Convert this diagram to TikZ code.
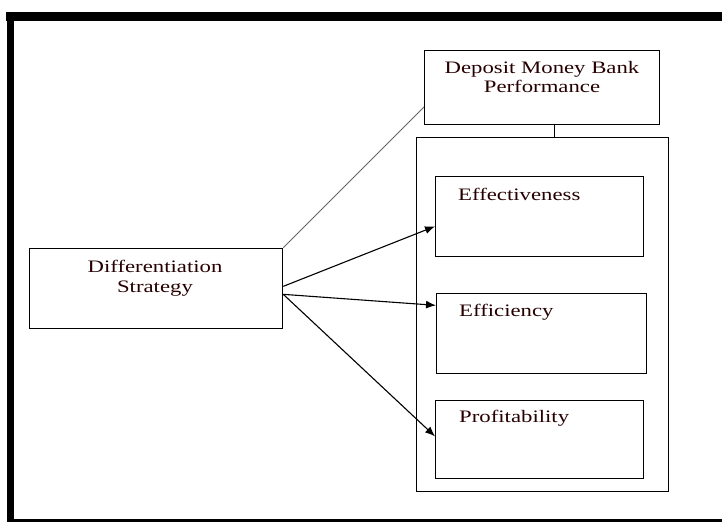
\documentclass[tikz,border=0pt]{standalone}
\usepackage{fontspec}
\usepackage{graphicx}
\setmainfont{Liberation Serif}
\usetikzlibrary{arrows.meta,calc}
\newcommand{\wtext}[1]{\scalebox{1.3}[1]{#1}}
\begin{document}
\begin{tikzpicture}[x=1pt,y=1pt,
  box/.style={draw=black,line width=1.3pt,rectangle,inner sep=0pt,anchor=south west},
  lbl/.style={inner sep=0pt,font=\fontsize{17.5}{20}\selectfont,text=black!85!red},
  arr/.style={line width=1.1pt,-{Latex[length=10pt,width=8pt]}},
  thin/.style={line width=0.8pt,draw=black!60}]
\useasboundingbox (0,0) rectangle (722,522);
% frame
\fill[black] (6,501) rectangle (722,510);
\fill[black] (7,0) rectangle (14,510);
\fill[black] (7,0) rectangle (722,3);
% boxes
\node[box,minimum width=253pt,minimum height=80pt] (ds) at (29,193) {};
\node[box,minimum width=235pt,minimum height=74pt] (dmb) at (424,397) {};
\node[box,line width=1.1pt,minimum width=252pt,minimum height=354pt] (big) at (416,30) {};
\node[box,minimum width=208pt,minimum height=80pt] (eff) at (435,265) {};
\node[box,minimum width=210pt,minimum height=80pt] (effic) at (436,148) {};
\node[box,minimum width=208pt,minimum height=78pt] (prof) at (435,43) {};
% texts
\node[lbl,anchor=base] (t1) at (155,249) {\wtext{Differentiation}};
\node[lbl,anchor=base] (t2) at (155,229) {\wtext{Strategy}};
\node[lbl,anchor=base] (t3) at (542,448) {\wtext{Deposit Money Bank}};
\node[lbl,anchor=base] (t4) at (542,429) {\wtext{Performance}};
\node[lbl,anchor=base west] (t5) at (458,321) {\wtext{Effectiveness}};
\node[lbl,anchor=base west] (t6) at (459,205) {\wtext{Efficiency}};
\node[lbl,anchor=base west] (t7) at (459,100) {\wtext{Profitability}};
% connectors
\coordinate (c1) at (554,397);
\draw[line width=1pt] (c1) -- (c1 |- big.north);
\draw[thin] (ds.north east) -- ($(dmb.south west)+(0,18)$);
\draw[arr] ($(ds.east)+(0,2)$) -- ($(eff.west)+(0,-10)$);
\draw[arr] ($(ds.east)+(0,-6)$) -- ($(effic.west)+(0,28)$);
\draw[arr] ($(ds.east)+(0,-6)$) -- ($(prof.west)+(0,3)$);
\end{tikzpicture}
\end{document}
